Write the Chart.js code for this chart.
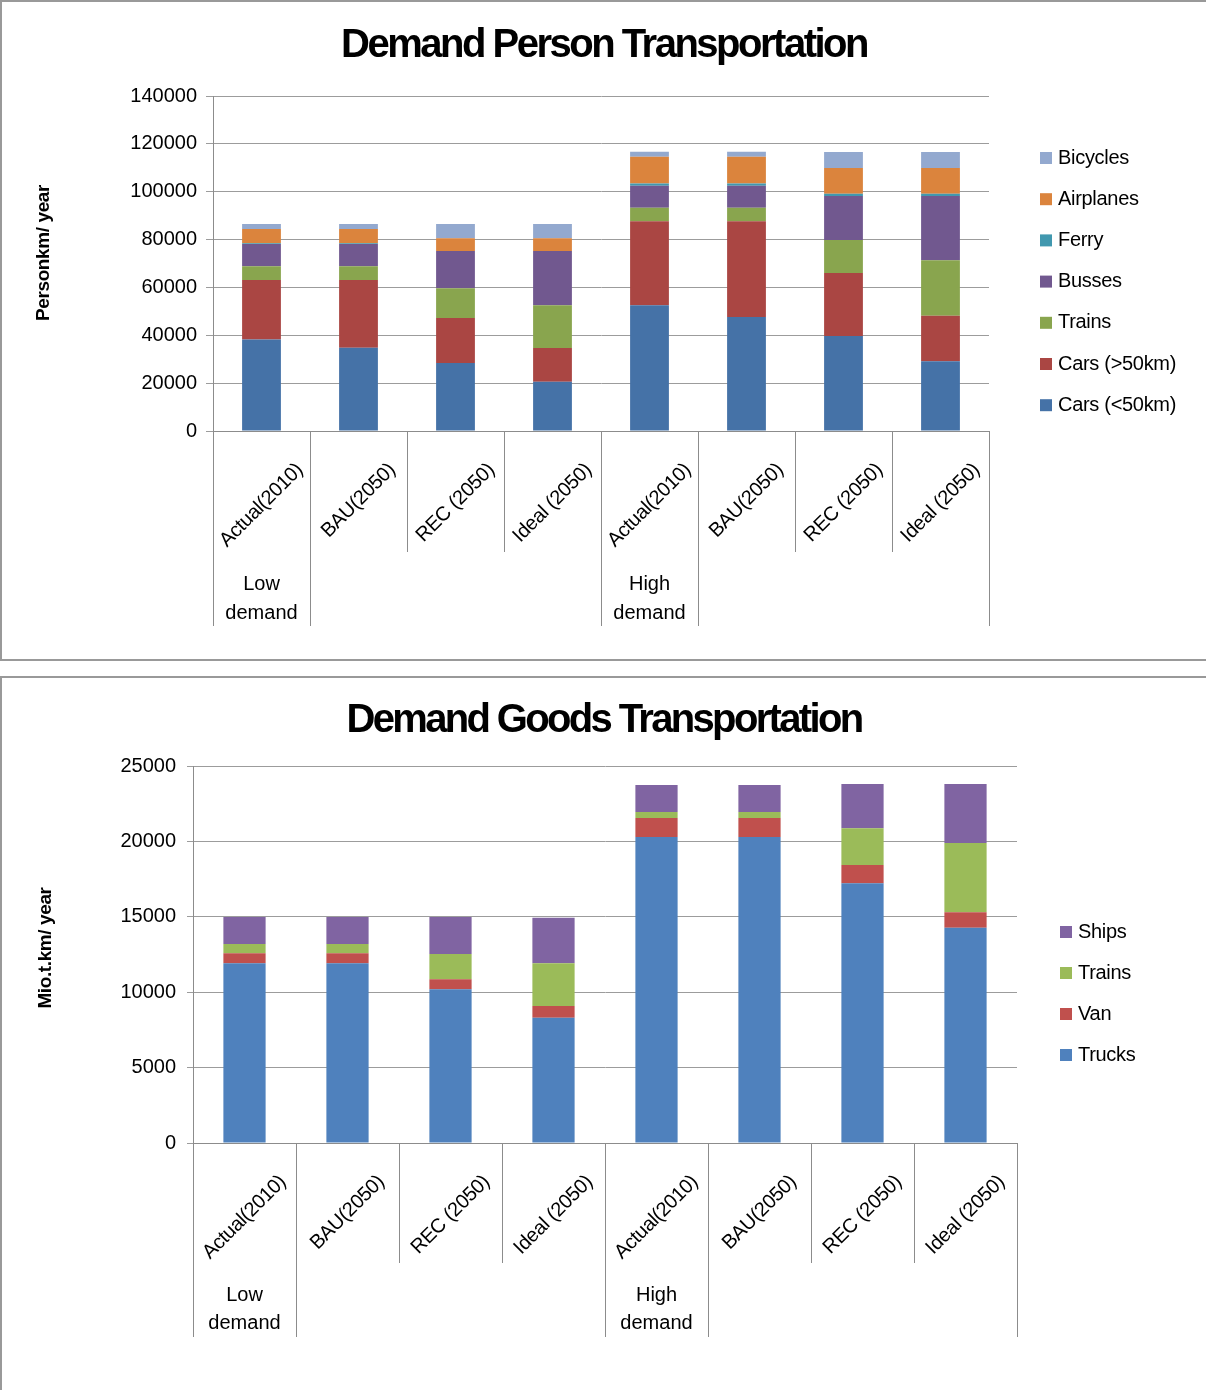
<!DOCTYPE html>
<html>
<head>
<meta charset="utf-8">
<title>Transportation demand</title>
<script src="https://cdn.jsdelivr.net/npm/chart.js@4.4.1/dist/chart.umd.min.js"></script>
<style>
  body { margin: 0; background: #fff; width: 1206px; height: 1390px; overflow: hidden; position: relative; }
  .panel { position: absolute; left: 0; width: 1240px; border: 2px solid #999; box-sizing: border-box; }
  canvas { position: absolute; left: 0; }
</style>
</head>
<body>
<div class="panel" style="top:0;height:661px"></div>
<div class="panel" style="top:676px;height:740px"></div>
<canvas id="personChart" width="1206" height="661" style="top:0"></canvas>
<canvas id="goodsChart" width="1206" height="714" style="top:676px"></canvas>
<script>
const scenarios = ['Actual(2010)', 'BAU(2050)', 'REC (2050)', 'Ideal (2050)', 'Actual(2010)', 'BAU(2050)', 'REC (2050)', 'Ideal (2050)']
const demandGroups = ['Low demand', 'High demand']

// person transport, personkm / year
const carsShort = [38200, 34800, 28400, 20600, 52600, 47600, 39700, 29200]
const carsLong  = [24900, 28300, 18800, 14100, 35100, 40100, 26300, 19000]
const trainsP   = [5800, 5800, 12500, 17900, 5600, 5600, 13800, 23200]
const busses    = [9200, 9200, 15500, 22600, 9200, 9200, 18400, 26800]
const ferry     = [400, 400, 0, 0, 900, 900, 1000, 1000]
const airplanes = [5900, 5900, 5400, 5400, 11200, 11200, 10700, 10700]
const bicycles  = [2100, 2100, 5900, 5900, 2100, 2100, 6700, 6700]

// goods transport, mio. t.km / year
const trucks  = [11920, 11920, 10200, 8300, 20290, 20290, 17230, 14270]
const van     = [660, 660, 660, 790, 1260, 1260, 1200, 1040]
const trainsG = [620, 620, 1680, 2830, 400, 400, 2450, 4580]
const ships   = [1780, 1780, 2440, 3010, 1790, 1790, 2930, 3920]

const FONT = '"Liberation Sans", Arial, sans-serif'
Chart.defaults.font.family = FONT
Chart.defaults.color = '#000'

// excel-like category frame, titles and legend
const excelFrame = {
  id: 'excelFrame',
  afterDraw(chart, args, opts) {
    const ctx = chart.ctx
    const x = chart.scales.x
    const area = chart.chartArea
    const step = x.getPixelForValue(1) - x.getPixelForValue(0)
    ctx.save()

    ctx.strokeStyle = '#8c8c8c'
    ctx.lineWidth = 1
    for (let i = 0; i <= scenarios.length; i++) {
      const px = Math.round(x.getPixelForValue(i) - step / 2) + 0.5
      const outer = i % 4 <= 1
      ctx.beginPath()
      ctx.moveTo(px, area.bottom)
      ctx.lineTo(px, outer ? opts.outerBottom : opts.innerBottom)
      ctx.stroke()
    }

    ctx.fillStyle = '#000'
    ctx.font = '20px ' + FONT
    ctx.letterSpacing = '-0.4px'
    ctx.textAlign = 'right'
    ctx.textBaseline = 'middle'
    scenarios.forEach((s, i) => {
      const cx = x.getPixelForValue(i)
      const w = ctx.measureText(s).width * Math.SQRT1_2
      ctx.save()
      ctx.translate(cx + w / 2, opts.labelTop)
      ctx.rotate(-Math.PI / 4)
      ctx.fillText(s, 0, 0)
      ctx.restore()
    })

    ctx.font = '20px ' + FONT
    ctx.letterSpacing = '0px'
    ctx.textAlign = 'center'
    demandGroups.forEach((g, k) => {
      const cx = x.getPixelForValue(k * 4)
      g.split(' ').forEach((word, j) => ctx.fillText(word, cx, opts.groupY[j]))
    })

    ctx.font = 'bold 19px ' + FONT
    ctx.letterSpacing = '-0.4px'
    ctx.save()
    ctx.translate(opts.yTitleX, opts.yTitleY)
    ctx.rotate(-Math.PI / 2)
    ctx.fillText(opts.yTitle, 0, 0)
    ctx.restore()

    // legend, top entry is the last stacked series
    ctx.font = '20px ' + FONT
    ctx.letterSpacing = '-0.3px'
    ctx.textAlign = 'left'
    chart.data.datasets.slice().reverse().forEach((d, i) => {
      const y = opts.legendTop + i * opts.legendGap
      ctx.fillStyle = d.backgroundColor
      ctx.fillRect(opts.legendX, y - 6, 12, 12)
      ctx.fillStyle = '#000'
      ctx.fillText(d.label, opts.legendX + 18, y)
    })

    ctx.font = 'bold 40px ' + FONT
    ctx.letterSpacing = '0px'
    const natural = ctx.measureText(opts.title).width
    ctx.letterSpacing = ((opts.titleWidth - natural) / opts.title.length) + 'px'
    ctx.textAlign = 'center'
    ctx.textBaseline = 'alphabetic'
    ctx.fillText(opts.title, 604, opts.titleBase)
    ctx.restore()
  }
}

function makeChart(id, datasets, yMax, yStep, box, frame) {
  return new Chart(document.getElementById(id), {
    type: 'bar',
    data: { labels: scenarios, datasets: datasets },
    plugins: [excelFrame],
    options: {
      responsive: false,
      animation: false,
      layout: { padding: { top: box.top, bottom: box.bottom, left: 0, right: box.right } },
      datasets: { bar: { barPercentage: box.barPct, categoryPercentage: 1 } },
      plugins: {
        legend: { display: false },
        title: { display: false },
        tooltip: { enabled: false },
        excelFrame: frame
      },
      scales: {
        x: {
          stacked: true,
          ticks: { display: false },
          grid: { display: false, drawTicks: false },
          border: { display: true, color: '#8c8c8c' },
          afterFit: s => { s.height = 0 }
        },
        y: {
          stacked: true,
          min: 0,
          max: yMax,
          ticks: { stepSize: yStep, padding: box.tickPad, font: { size: 20 }, callback: v => String(v) },
          grid: { color: '#9c9c9c', tickLength: box.tickLen },
          border: { color: '#8c8c8c' },
          afterFit: s => { s.width = box.left }
        }
      }
    }
  })
}

makeChart('personChart', [
  { label: 'Cars (<50km)', data: carsShort, backgroundColor: '#4572A7' },
  { label: 'Cars (>50km)', data: carsLong, backgroundColor: '#AA4643' },
  { label: 'Trains', data: trainsP, backgroundColor: '#89A54E' },
  { label: 'Busses', data: busses, backgroundColor: '#71588F' },
  { label: 'Ferry', data: ferry, backgroundColor: '#4198AF' },
  { label: 'Airplanes', data: airplanes, backgroundColor: '#DB843D' },
  { label: 'Bicycles', data: bicycles, backgroundColor: '#93A9CF' }
], 140000, 20000,
  { top: 96, bottom: 230, left: 213, right: 217, barPct: 0.4, tickLen: 7, tickPad: 9 },
  { title: 'Demand Person Transportation', titleWidth: 526, titleBase: 57,
    yTitle: 'Personkm/ year', yTitleX: 44, yTitleY: 253,
    labelTop: 467, innerBottom: 552, outerBottom: 626, groupY: [584, 613],
    legendX: 1040, legendTop: 158, legendGap: 41.2 })

makeChart('goodsChart', [
  { label: 'Trucks', data: trucks, backgroundColor: '#4F81BD' },
  { label: 'Van', data: van, backgroundColor: '#C0504D' },
  { label: 'Trains', data: trainsG, backgroundColor: '#9BBB59' },
  { label: 'Ships', data: ships, backgroundColor: '#8064A2' }
], 25000, 5000,
  { top: 90, bottom: 247, left: 193, right: 189, barPct: 0.41, tickLen: 6, tickPad: 11 },
  { title: 'Demand Goods Transportation', titleWidth: 515, titleBase: 56,
    yTitle: 'Mio.t.km/ year', yTitleX: 46, yTitleY: 272,
    labelTop: 503, innerBottom: 587, outerBottom: 661, groupY: [619, 647],
    legendX: 1060, legendTop: 256, legendGap: 41 })
</script>
</body>
</html>
